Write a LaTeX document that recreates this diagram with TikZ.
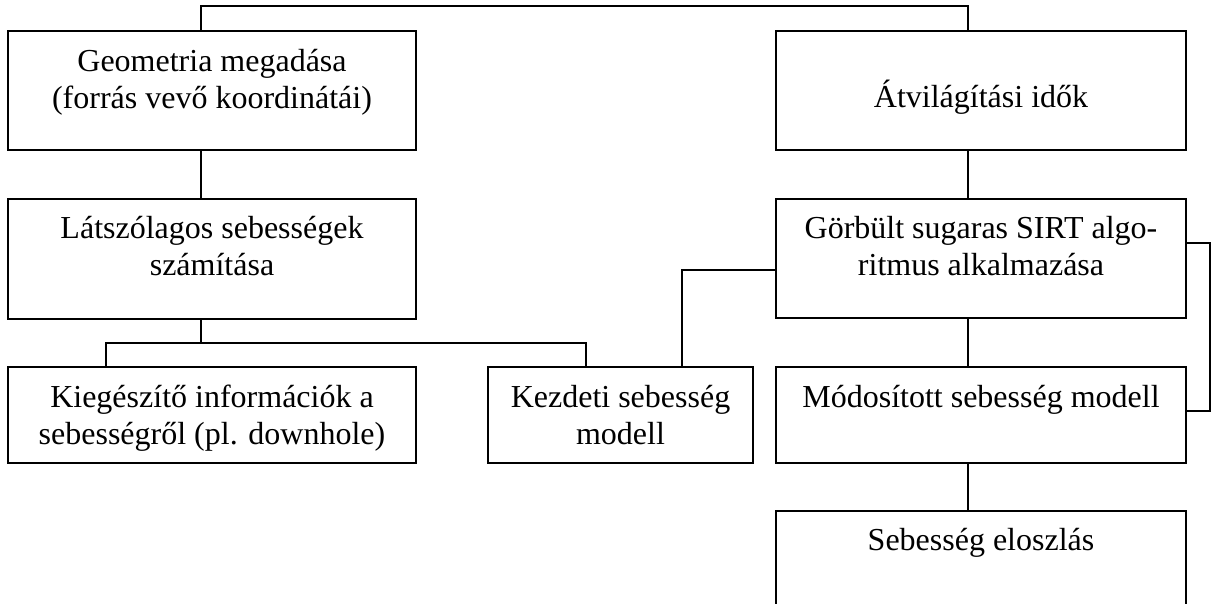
\documentclass[tikz,border=0pt]{standalone}
\usepackage{fontspec}
\setmainfont{Liberation Serif}
\begin{document}
\begin{tikzpicture}[x=1pt,y=-1pt,
  blk/.style={draw, line width=2.2pt, inner sep=0pt, outer sep=0pt, anchor=north west,
    font=\fontsize{32}{37}\selectfont},
  ln/.style={line width=2.2pt}]
\useasboundingbox (0,0) rectangle (1217,604);
% boxes
\node[blk, minimum width=408pt, text height=41pt, text depth=78pt] (geo) at (8,31)
  {\begin{tabular}[t]{@{}c@{}}Geometria megadása\\(forrás vevő koordinátái)\end{tabular}};
\node[blk, minimum width=410pt, text height=77pt, text depth=42pt] (atv) at (776,31)
  {\begin{tabular}[t]{@{}c@{}}Átvilágítási idők\end{tabular}};
\node[blk, minimum width=408pt, text height=39pt, text depth=81pt] (lat) at (8,199)
  {\begin{tabular}[t]{@{}c@{}}Látszólagos sebességek\\számítása\end{tabular}};
\node[blk, minimum width=410pt, text height=39pt, text depth=80pt] (gor) at (776,199)
  {\begin{tabular}[t]{@{}c@{}}Görbült sugaras SIRT algo-\\ritmus alkalmazása\end{tabular}};
\node[blk, minimum width=408pt, text height=40pt, text depth=56pt] (kieg) at (8,367)
  {\begin{tabular}[t]{@{}c@{}}Kiegészítő információk a\\sebességről (pl. downhole)\end{tabular}};
\node[blk, minimum width=265pt, text height=40pt, text depth=56pt] (kezd) at (488,367)
  {\begin{tabular}[t]{@{}c@{}}Kezdeti sebesség\\modell\end{tabular}};
\node[blk, minimum width=410pt, text height=40pt, text depth=56pt] (mod) at (776,367)
  {\begin{tabular}[t]{@{}c@{}}Módosított sebesség modell\end{tabular}};
\node[blk, minimum width=410pt, text height=39pt, text depth=91pt] (seb) at (776,511)
  {\begin{tabular}[t]{@{}c@{}}Sebesség eloszlás\end{tabular}};
% helper coordinates
\coordinate (cx1) at (201,0);
\coordinate (cx2) at (968,0);
\coordinate (cxk) at (106,0);
\coordinate (cxz) at (586,0);
\coordinate (cxa) at (682,0);
\coordinate (yt) at (0,6);
\coordinate (yj) at (0,343);
\coordinate (ya) at (0,270);
\coordinate (yb) at (0,243);
\coordinate (yc) at (0,411);
\coordinate (xr) at (1210,0);
% connectors
\draw[ln] (geo.north -| cx1) |- (yt -| cx2) -- (atv.north -| cx2);
\draw[ln] (geo.south -| cx1) -- (lat.north -| cx1);
\draw[ln] (lat.south -| cx1) -- (yj -| cx1);
\draw[ln] (kieg.north -| cxk) |- (yj -| cxz) -- (kezd.north -| cxz);
\draw[ln] (kezd.north -| cxa) |- (gor.west |- ya);
\draw[ln] (atv.south -| cx2) -- (gor.north -| cx2);
\draw[ln] (gor.south -| cx2) -- (mod.north -| cx2);
\draw[ln] (mod.south -| cx2) -- (seb.north -| cx2);
\draw[ln] (gor.east |- yb) -| (xr |- yc) -- (mod.east |- yc);
\end{tikzpicture}
\end{document}
